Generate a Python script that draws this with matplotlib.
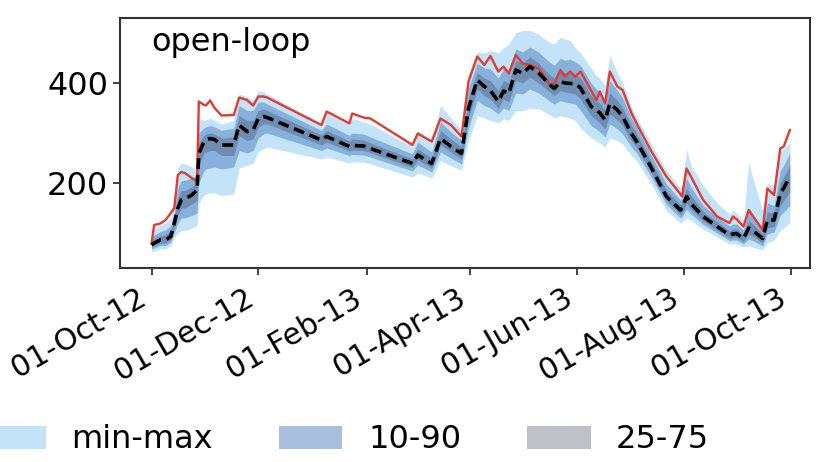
import matplotlib
matplotlib.use("Agg")
import matplotlib.pyplot as plt
import matplotlib.dates as mdates
import pandas as pd

start_date = "2012-10-01"
days = [0, 1.5, 5, 8, 11, 13, 15, 17, 19, 23, 26, 27, 30, 31, 33.5, 36, 40, 47, 50, 54.5,
        58, 61, 64, 66, 97, 100, 113, 114.6, 121, 125, 149, 152, 160, 165, 171, 177, 181, 186, 190, 193.5,
        198, 201, 204, 208, 212, 216, 221, 223, 228, 230, 233.5, 236, 239, 242, 245, 251, 254, 256, 259, 261.7,
        266, 269, 274, 277, 285, 294, 302, 303, 305.5, 308, 315, 323, 330, 332, 334, 338, 341, 345, 349, 351.6,
        355.5, 359, 361, 364.5]
open_loop = [79, 116, 119, 126, 140, 150, 216, 222, 220, 210, 203, 363, 356, 355, 365, 350, 335, 336, 371, 366,
             355, 373, 373, 371, 316, 343, 319, 339, 331, 329, 276, 299, 283, 329, 316, 293, 403, 453, 436, 454,
             423, 433, 419, 456, 439, 436, 429, 420, 393, 400, 426, 413, 423, 413, 423, 385, 366, 383, 359, 423,
             393, 386, 340, 319, 266, 213, 178, 173, 229, 213, 166, 133, 120, 133, 128, 113, 146, 126, 106, 189,
             176, 269, 273, 306]
median = [76, 80, 86, 86, 93, 120, 150, 166, 168, 176, 186, 259, 283, 286, 289, 287, 276, 276, 316, 303,
          306, 329, 333, 331, 286, 293, 273, 275, 274, 269, 239, 256, 239, 289, 273, 259, 350, 406, 393, 385,
          363, 384, 379, 426, 419, 433, 420, 413, 395, 389, 403, 400, 399, 399, 390, 353, 346, 340, 326, 359,
          346, 333, 299, 283, 233, 173, 146, 150, 173, 159, 133, 113, 96, 98, 99, 89, 110, 100, 89, 126,
          126, 179, 190, 213]
q_min = [62, 64, 68, 68, 75, 90, 100, 105, 105, 110, 115, 160, 175, 178, 180, 180, 175, 178, 230, 235,
         240, 262, 268, 272, 248, 252, 240, 242, 242, 238, 212, 220, 210, 245, 235, 225, 285, 335, 330, 325,
         320, 328, 325, 345, 345, 350, 348, 345, 335, 330, 335, 332, 330, 325, 310, 290, 285, 280, 272, 290,
         285, 278, 255, 245, 200, 145, 120, 122, 130, 125, 108, 92, 78, 78, 78, 72, 74, 70, 66, 80,
         86, 105, 110, 120]
q10 = [68, 70, 75, 75, 82, 100, 120, 130, 130, 135, 140, 200, 225, 228, 230, 232, 228, 232, 265, 260,
       265, 290, 298, 300, 265, 270, 255, 257, 256, 252, 224, 236, 222, 262, 250, 238, 310, 365, 355, 350,
       338, 350, 345, 380, 378, 388, 380, 375, 362, 358, 365, 362, 360, 358, 345, 315, 308, 302, 292, 318,
       308, 298, 272, 260, 214, 157, 130, 133, 148, 138, 117, 100, 85, 86, 86, 78, 88, 82, 74, 98,
       102, 135, 142, 155]
q25 = [72, 75, 80, 80, 87, 110, 135, 150, 150, 158, 165, 235, 260, 262, 265, 265, 255, 255, 295, 285,
       288, 312, 318, 318, 276, 282, 264, 266, 265, 261, 231, 246, 230, 276, 262, 248, 330, 388, 375, 368,
       350, 368, 362, 405, 400, 412, 400, 395, 380, 375, 385, 382, 380, 378, 368, 335, 326, 320, 308, 338,
       326, 315, 285, 272, 223, 165, 137, 140, 160, 148, 124, 106, 90, 91, 92, 83, 98, 90, 80, 110,
       113, 155, 165, 182]
q75 = [82, 88, 95, 96, 105, 130, 170, 185, 185, 192, 200, 280, 295, 298, 300, 298, 290, 292, 335, 325,
       325, 345, 348, 345, 296, 305, 284, 288, 286, 280, 248, 268, 250, 305, 288, 272, 370, 420, 410, 405,
       385, 405, 400, 445, 440, 452, 440, 432, 415, 410, 425, 420, 420, 418, 410, 375, 365, 360, 345, 380,
       365, 350, 315, 298, 245, 185, 156, 160, 190, 175, 143, 122, 104, 108, 108, 97, 125, 112, 98, 142,
       140, 200, 212, 235]
q90 = [88, 96, 103, 106, 115, 140, 190, 205, 205, 210, 215, 300, 310, 312, 315, 312, 305, 310, 355, 345,
       345, 362, 362, 358, 305, 318, 295, 300, 298, 292, 258, 282, 262, 322, 302, 285, 390, 440, 430, 428,
       410, 428, 425, 468, 462, 472, 462, 455, 440, 435, 450, 445, 448, 442, 435, 400, 388, 380, 365, 405,
       385, 370, 330, 312, 258, 198, 166, 172, 210, 192, 155, 132, 114, 118, 118, 106, 145, 125, 110, 160,
       155, 225, 235, 260]
q_max = [95, 108, 115, 120, 130, 160, 230, 240, 238, 232, 225, 330, 325, 326, 330, 325, 318, 325, 378, 372,
         365, 385, 382, 378, 318, 340, 315, 330, 322, 318, 272, 305, 285, 355, 330, 305, 420, 462, 460, 465,
         460, 470, 478, 500, 505, 505, 498, 492, 480, 478, 492, 488, 485, 470, 460, 430, 415, 410, 395, 455,
         420, 400, 352, 332, 280, 225, 190, 200, 268, 235, 195, 160, 138, 145, 140, 125, 240, 190, 145, 200,
         195, 260, 268, 280]
tick_months = [2, 4, 6, 8, 10, 12]
band_labels = ["min-max", "10-90", "25-75"]
panel_label = "open-loop"

dates = pd.Timestamp(start_date) + pd.to_timedelta(days, unit="D")

fs = 23
plt.rcParams['font.family'] = ['DejaVu Sans']
fig = plt.figure(figsize=(8.37, 4.62), dpi=100)
ax = fig.add_axes([120/837, 1-268/462, (810-120)/837, (268-18)/462])

h1 = ax.fill_between(dates, q_min, q_max, color='#87c8f2', alpha=0.5, lw=0, label=band_labels[0])
h2 = ax.fill_between(dates, q10, q90, color='#4173b9', alpha=0.45, lw=0, label=band_labels[1])
h3 = ax.fill_between(dates, q25, q75, color='#3c465a', alpha=0.33, lw=0, label=band_labels[2])
ax.plot(dates, open_loop, color='#e03c31', lw=1.7, zorder=4)
ax.plot(dates, median, color='black', lw=2.6, dashes=(3, 1.6), zorder=5)

ax.set_xlim(pd.Timestamp("2012-09-13"), pd.Timestamp("2013-10-12"))
ax.set_ylim(30, 530)
ax.set_yticks([200, 400])
ax.xaxis.set_major_locator(mdates.MonthLocator(bymonth=tick_months))
ax.xaxis.set_major_formatter(mdates.DateFormatter('%d-%b-%y'))
ax.tick_params(labelsize=fs, length=5, width=1.3, color='#333333')
ax.tick_params(axis='x', pad=6, labelsize=21.5)
for lab in ax.get_xticklabels():
    lab.set_rotation(30)
    lab.set_ha('right')
for sp in ax.spines.values():
    sp.set_linewidth(1.5)
    sp.set_color('#333333')
ax.text(0.046, 0.90, panel_label, transform=ax.transAxes, fontsize=fs, va='center', ha='left')

fig.legend(handles=[h1, h2, h3], labels=band_labels, loc='center left',
           bbox_to_anchor=(-18/837, 1-440/462), ncol=3, frameon=False, fontsize=fs,
           handlelength=2.0, handleheight=0.75, handletextpad=0.8, columnspacing=2.05,
           borderpad=0, borderaxespad=0)

fig.savefig("out.png", dpi=100)
